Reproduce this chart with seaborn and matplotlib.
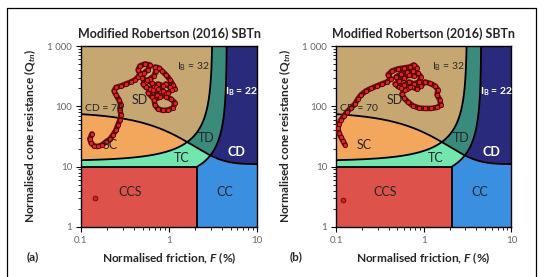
import numpy as np
import pandas as pd
import matplotlib
matplotlib.use("Agg")
import matplotlib.pyplot as plt
import seaborn as sns
from matplotlib.colors import ListedColormap
from matplotlib.lines import Line2D
from matplotlib.ticker import FixedLocator, LogLocator, NullFormatter

# ---------------- data ----------------
f_a = [0.133, 0.126, 0.130, 0.141, 0.156, 0.173, 0.192, 0.214, 0.231, 0.250,
       0.263, 0.277, 0.285, 0.277, 0.285, 0.270, 0.250, 0.237, 0.250, 0.285,
       0.324, 0.370, 0.411, 0.445, 0.468,
       0.445, 0.468, 0.534, 0.608, 0.577, 0.520, 0.494, 0.548, 0.608, 0.676,
       0.711, 0.693, 0.769, 0.832, 0.925, 1.03, 1.11, 1.17, 1.03, 0.925,
       0.855, 0.750, 0.676, 0.608, 0.548, 0.506, 0.562, 0.641, 0.711, 0.791,
       0.731, 0.641, 0.577, 0.658, 0.750, 0.855, 0.925, 0.791, 0.676,
       0.693, 0.750, 0.855, 0.975, 1.11, 1.17, 1.05, 0.925, 0.975, 1.08]
q_a = [34.9, 28.8, 24.7, 22.0, 21.6, 22.9, 25.7, 28.8, 33.6, 40.6,
       49.2, 59.5, 72, 87, 105, 128, 155, 180, 206, 218,
       235, 254, 274, 307, 345,
       402, 468, 505, 486, 402, 358, 296, 254, 285, 319,
       386, 450, 433, 386, 332, 274, 226, 194, 206, 235,
       218, 235, 218, 194, 206, 235, 274, 244, 206, 180,
       155, 143, 167, 187, 194, 180, 161, 143, 128,
       105, 90.5, 85.5, 87, 94, 114, 133, 143, 167, 187]

f_b = [0.127, 0.120, 0.114, 0.108, 0.105, 0.108, 0.114, 0.123, 0.133, 0.148,
       0.165, 0.178, 0.193, 0.220, 0.251, 0.293, 0.334, 0.382, 0.424,
       0.392, 0.435, 0.509, 0.595, 0.698, 0.774, 0.839, 0.755, 0.645, 0.551,
       0.483, 0.522, 0.595, 0.679, 0.774, 0.861, 0.931, 0.883, 0.774, 0.679,
       0.595, 0.522, 0.471, 0.551, 0.645, 0.736, 0.839, 0.931, 1.035,
       1.18, 1.35, 1.46, 1.42, 1.53, 1.57, 1.42, 1.21, 1.035, 0.883,
       0.755, 0.662, 0.595, 0.566, 0.612, 0.698]
q_b = [22.9, 26.7, 31.1, 36.2, 43.8, 51.1, 59.5, 69.3, 80.7, 94,
       110, 133, 155, 180, 198, 218, 235, 254, 285,
       332, 386, 417, 433, 450, 486, 433, 386, 372, 345,
       307, 264, 296, 332, 319, 358, 307, 254, 235, 254,
       226, 210, 235, 202, 194, 210, 194, 218, 254,
       240, 218, 187, 155, 128, 105, 95.9, 92.3, 92.3, 94,
       102, 118, 138, 161, 187, 206]

single_f_a = [0.145]
single_q_a = [3.0]
single_f_b = [0.12]
single_q_b = [2.8]

panel_tags = ["(a)", "(b)"]
title_text = "Modified Robertson (2016) SBTn"
x_ticks = [0.1, 1, 10]
x_tick_labels = ["0.1", "1", "10"]
y_ticks = [1, 10, 100, 1000]
y_tick_labels = ["1", "10", "100", "1 000"]

zone_names = ["CCS", "CC", "TC", "SC", "TD", "CD", "SD"]
zone_colors = ["#DE524C", "#3A8FE0", "#72E6AE", "#F2A75C", "#3B8B7C", "#2A2A7C", "#C6A771"]

CD_LIMIT = 70
IB_SAND = 32
IB_CLAY = 22
Q_CCS = 10

# ---------------- style ----------------
sns.set_style("ticks")
plt.rcParams["font.family"] = ["Lato", "DejaVu Sans"]
plt.rcParams["mathtext.fontset"] = "custom"
plt.rcParams["mathtext.rm"] = "Lato"
plt.rcParams["mathtext.it"] = "Lato:italic:bold"
plt.rcParams["mathtext.bf"] = "Lato:bold"

fig = plt.figure(figsize=(5.48, 2.77), dpi=100)
fig.patch.set_facecolor("white")

axes_boxes = [
    [81 / 548, 1 - 227 / 277, 176 / 548, 181 / 277],
    [336 / 548, 1 - 227 / 277, 175.3 / 548, 181 / 277],
]


def cd_boundary(F):
    return 11 + CD_LIMIT / (1 + 0.06 * F) ** 17


def ib_F_from_Q(Q, ib):
    return (100 - (70 * ib - 1000) / Q) / ib


F0 = ib_F_from_Q(Q_CCS, IB_CLAY)


def zones(F, Q):
    cd = (Q - 11) * (1 + 0.06 * F) ** 17
    ib = 100 * (Q + 10) / (Q * F + 70)
    z = np.where(cd >= CD_LIMIT,
                 np.where(ib > IB_SAND, 6, np.where(ib > IB_CLAY, 4, 5)),
                 np.where(ib > IB_SAND, 3, np.where(ib > IB_CLAY, 2, 1)))
    z = np.where(Q < Q_CCS, np.where(F < F0, 0, 1), z)
    return z


Fe = np.logspace(-1, 1, 1401)
Qe = np.logspace(0, 3, 1401)
Fc = np.sqrt(Fe[:-1] * Fe[1:])
Qc = np.sqrt(Qe[:-1] * Qe[1:])
FF, QQ = np.meshgrid(Fc, Qc)
Z = zones(FF, QQ)
cmap = ListedColormap(zone_colors)

datasets = [(f_a, q_a, single_f_a, single_q_a), (f_b, q_b, single_f_b, single_q_b)]
tag_x = [33 / 548, 296 / 548]

for i, box in enumerate(axes_boxes):
    ax = fig.add_axes(box)
    ax.set_xscale("log")
    ax.set_yscale("log")
    ax.pcolormesh(Fe, Qe, Z, cmap=cmap, vmin=-0.5, vmax=6.5, shading="flat",
                  rasterized=True, antialiased=False, zorder=0)

    lw = 1.3
    Fl = np.logspace(-1, 1, 500)
    ax.plot(Fl, cd_boundary(Fl), color="black", lw=lw, zorder=2)
    q32 = np.logspace(np.log10((70 * IB_SAND - 1000) / (100 - IB_SAND * 0.1)), 3, 3000)
    ax.plot(ib_F_from_Q(q32, IB_SAND), q32, color="black", lw=lw, zorder=2)
    q22 = np.logspace(np.log10(Q_CCS), 3, 3000)
    ax.plot(ib_F_from_Q(q22, IB_CLAY), q22, color="black", lw=lw, zorder=2)
    ax.plot([0.1, F0], [Q_CCS, Q_CCS], color="black", lw=lw, zorder=2)
    ax.plot([F0, F0], [1, Q_CCS], color="black", lw=lw, zorder=2)

    fa, qa, sf, sq = datasets[i]
    df = pd.DataFrame({"F": fa, "Q": qa})
    sns.lineplot(data=df, x="F", y="Q", sort=False, estimator=None, ax=ax,
                 color="#6e0c0c", lw=4.0, zorder=3)
    sns.scatterplot(data=df, x="F", y="Q", ax=ax, s=10, color="#E02222",
                    edgecolor="#3d0303", linewidth=0.5, zorder=4)
    sns.scatterplot(x=sf, y=sq, ax=ax, s=12, color="#D91E1E",
                    edgecolor="#4d0505", linewidth=0.5, zorder=4)

    # zone labels
    fs = 9
    ax.text(0.47, 128, "SD", fontsize=fs, ha="center", va="center", zorder=5)
    ax.text(0.212, 22.9, "SC", fontsize=fs, ha="center", va="center", zorder=5)
    ax.text(1.39, 13.8, "TC", fontsize=fs, ha="center", va="center", zorder=5)
    ax.text(2.68, 29.6, "TD", fontsize=fs, ha="center", va="center", zorder=5)
    ax.text(5.88, 17.7, "CD", fontsize=fs, ha="center", va="center",
            color="white", fontweight="bold", zorder=5)
    ax.text(4.33, 3.85, "CC", fontsize=fs, ha="center", va="center", zorder=5)
    ax.text(0.36, 3.85, "CCS", fontsize=fs, ha="center", va="center", zorder=5)
    ax.text(0.111, 93, "CD = 70", fontsize=7.5, ha="left", va="center", zorder=5)
    ax.text(1.89, 456, r"I$_{\mathregular{B}}$ = 32", fontsize=7.5, ha="center",
            va="center", zorder=5)
    ax.text(6.7, 175, r"I$_{\mathbf{B}}$ = 22", fontsize=7.5, ha="center", va="center",
            color="white", fontweight="bold", zorder=5)

    ax.set_xlim(0.1, 10)
    ax.set_ylim(1, 1000)
    ax.xaxis.set_major_locator(FixedLocator(x_ticks))
    ax.set_xticklabels(x_tick_labels)
    ax.yaxis.set_major_locator(FixedLocator(y_ticks))
    ax.set_yticklabels(y_tick_labels)
    ax.xaxis.set_minor_locator(LogLocator(base=10, subs=np.arange(2, 10)))
    ax.yaxis.set_minor_locator(LogLocator(base=10, subs=np.arange(2, 10)))
    ax.xaxis.set_minor_formatter(NullFormatter())
    ax.yaxis.set_minor_formatter(NullFormatter())
    ax.tick_params(which="major", direction="out", length=3.5, width=0.8,
                   labelsize=7, labelcolor="#666666", color="black", pad=3)
    ax.tick_params(which="minor", direction="out", length=2, width=0.6, color="black")
    for sp in ax.spines.values():
        sp.set_visible(True)
        sp.set_linewidth(1.0)
        sp.set_color("black")

    ax.set_title(title_text, fontsize=9, fontweight="bold", pad=6)
    ax.set_xlabel(r"Normalised friction, $\mathit{F}$ (%)", fontsize=8.6,
                  fontweight="bold")
    ax.set_ylabel(r"Normalised cone resistance (Q$_{\mathit{tn}}$)", fontsize=8.6,
                  fontweight="bold")
    ax.xaxis.set_label_coords(0.5, -0.13)
    ax.yaxis.set_label_coords(-0.245, 0.5)

    fig.text(tag_x[i], 1 - 257 / 277, panel_tags[i], fontsize=8.5, fontweight="bold",
             ha="center", va="center")

# outer frame
x0, x1, ytop = 7 / 548, 536 / 548, 1 - 8 / 277
for xs, ys in [([x0, x1], [ytop, ytop]), ([x0, x0], [0, ytop]), ([x1, x1], [0, ytop])]:
    fig.add_artist(Line2D(xs, ys, transform=fig.transFigure, color="black", lw=0.9))

fig.savefig("out.png", dpi=100, facecolor="white")
